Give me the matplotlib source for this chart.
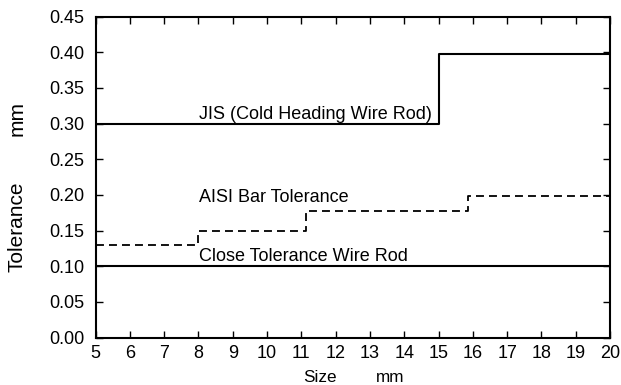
import matplotlib
matplotlib.use("Agg")
import matplotlib.pyplot as plt

plt.rcParams['font.family'] = ['Liberation Sans', 'DejaVu Sans']

# Data
jis_x = [5, 15, 20]
jis_y = [0.300, 0.397, 0.397]
aisi_x = [5, 8, 11.15, 15.87, 20]
aisi_y = [0.13, 0.15, 0.178, 0.199, 0.199]
close_x = [5, 20]
close_y = [0.10, 0.10]

xticks = list(range(5, 21))
yticks = [0.00, 0.05, 0.10, 0.15, 0.20, 0.25, 0.30, 0.35, 0.40, 0.45]

W, H = 621, 385
fig = plt.figure(figsize=(W/100, H/100), dpi=100)
ax = fig.add_axes([95.5/W, 1-337.5/H, (610-95.5)/W, (337.5-16.5)/H])

ax.step(jis_x, jis_y, where='post', color='black', lw=1.5)
ax.step(aisi_x, aisi_y, where='post', color='black', lw=1.3, linestyle=(0, (4.4, 2.8)))
ax.plot(close_x, close_y, color='black', lw=1.5)

ax.text(8.03, 0.307, "JIS (Cold Heading Wire Rod)", fontsize=13, va='baseline', ha='left')
ax.text(8.03, 0.190, "AISI Bar Tolerance", fontsize=13, va='baseline', ha='left')
ax.text(8.03, 0.1075, "Close Tolerance Wire Rod", fontsize=13, va='baseline', ha='left')

ax.set_xlim(5, 20)
ax.set_ylim(0, 0.45)
ax.set_xticks(xticks)
ax.set_yticks(yticks)
ax.set_yticklabels([f"{v:.2f}" for v in yticks])
ax.tick_params(direction='in', top=True, right=True, length=5, width=1, labelsize=13)
ax.tick_params(axis='x', pad=5.5)
ax.tick_params(axis='y', pad=8)
for s in ax.spines.values():
    s.set_linewidth(1.5)

fig.text(319.5/W, 1-377/H, "Size", fontsize=12.3, ha='center', va='center')
fig.text(390/W, 1-377/H, "mm", fontsize=12.3, ha='center', va='center')
fig.text(17/W, 1-226.5/H, "Tolerance", fontsize=15, ha='center', va='center', rotation=90)
fig.text(17/W, 1-118/H, "mm", fontsize=15, ha='center', va='center', rotation=90)

fig.savefig("out.png", dpi=100)
